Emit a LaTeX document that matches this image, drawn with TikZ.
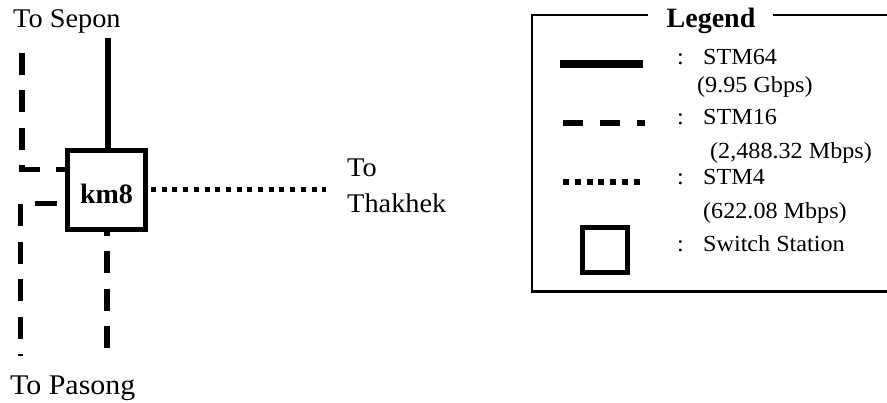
\documentclass[tikz,border=0pt]{standalone}
\usepackage{fontspec}
\setmainfont{Liberation Serif}[FakeStretch=1.05, BoldFeatures={FakeStretch=1.0}]
\usetikzlibrary{positioning}

\begin{document}
\begin{tikzpicture}[x=1pt, y=-1pt,
        % STYLES
        station/.style={rectangle, draw=black, line width=5pt, minimum width=78pt, minimum height=79.5pt, inner sep=0pt, text height=28pt, text depth=0pt, font=\fontsize{28}{32}\selectfont\bfseries},
        dest/.style={anchor=base west, inner sep=0pt, font=\fontsize{27}{32}\selectfont},
        legtext/.style={anchor=base west, inner sep=0pt, font=\fontsize{23}{27}\selectfont},
        % LINKS
        stm64/.style={line width=6pt},
        stm16/.style={line width=5.5pt, dash pattern=on 22pt off 15.5pt},
        stm4/.style={line width=5pt, dash pattern=on 5pt off 5.7pt}
    ]
    \useasboundingbox (0,0) rectangle (887,403);
    \clip (0,0) rectangle (887,403);

    % ===================================
    % 1. Switch station and links
    % ===================================
    \node[station] (km8) at (106.5,190) {km8};

    \coordinate (sepon) at (108,38);
    \coordinate (thakhek) at (326,190);
    \coordinate (pasongA) at (22,53);
    \coordinate (pasongB) at (20.5,356);
    \coordinate (pasongC) at (107,348);

    \draw[stm64] (sepon) -- (sepon |- km8.north);
    \draw[stm4, dash phase=7.7pt] (km8.east) -- (thakhek);
    \draw[stm16] (pasongA) |- ([yshift=20.5pt]km8.west);
    \draw[stm16, dash phase=29.5pt] ([yshift=-13.5pt]km8.west) -| (pasongB);
    \draw[stm16, dash phase=18.5pt] (km8.south -| pasongC) -- (pasongC);

    % --- Destinations ---
    \node[dest] (sepon label) at (13,28) {To Sepon};
    \node[dest] (thakhek to) at (347,177) {To};
    \node[dest] (thakhek label) at (347,213) {Thakhek};
    \node[dest, font=\fontsize{28.5}{33}\selectfont] (pasong label) at (10,395) {To Pasong};

    % ===================================
    % 2. Legend
    % ===================================
    \node[anchor=base, inner sep=0pt, font=\fontsize{28}{32}\selectfont\bfseries] (legend title) at (711,28) {Legend};
    \draw[line width=2.8pt] (648,15) -- (532,15) -- (532,291.5) -- (900,291.5) -- (900,15) -- (773,15);

    % samples
    \draw[stm64, line width=8pt] (560,64) -- (643,64);
    \draw[stm16, line width=6pt, dash pattern=on 20pt off 17pt] (563,123) -- (645,123);
    \draw[stm4, line width=6pt, dash pattern=on 6pt off 5.8pt] (563,182) -- (640,182);
    \node[station, minimum width=45pt, minimum height=45pt] (leg station) at (605,250) {};

    % descriptions
    \node[legtext] (c64) at (677,65) {:};
    \node[legtext] (t64) at (703,65) {STM64};
    \node[legtext] (r64) at (697,93) {(9.95 Gbps)};
    \node[legtext] (c16) at (677,125) {:};
    \node[legtext] (t16) at (703,125) {STM16};
    \node[legtext] (r16) at (710,159) {(2,488.32 Mbps)};
    \node[legtext] (c4) at (677,185) {:};
    \node[legtext] (t4) at (703,185) {STM4};
    \node[legtext] (r4) at (703,219) {(622.08 Mbps)};
    \node[legtext] (csw) at (677,252) {:};
    \node[legtext] (tsw) at (703,252) {Switch Station};

\end{tikzpicture}
\end{document}
